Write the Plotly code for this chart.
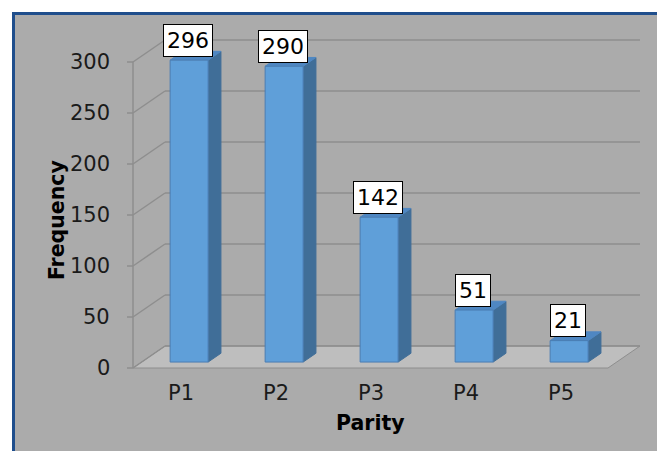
import plotly.graph_objects as go

# Parity distribution
categories = ["P1", "P2", "P3", "P4", "P5"]
frequency = [296, 290, 142, 51, 21]
y_ticks = [0, 50, 100, 150, 200, 250, 300]
y_max = 300

# Pseudo-3D projection (screen scale of one category / one unit, depth offset)
W, H = 657, 451
CAT_PX = 95.0           # pixels per category slot on the front plane
VAL_PX = 1.02           # pixels per frequency unit
ORIGIN_PX = (133, 368)  # front-left floor corner
DEPTH_PX = (32, 22)     # full depth shift (right, up)
DX = DEPTH_PX[0] / CAT_PX
DY = DEPTH_PX[1] / VAL_PX
BAR_W = 0.4             # bar width as a fraction of a slot
BAR_Z0, BAR_Z1 = 0.27, 0.67  # bar front/back depth fractions

FONT = "DejaVu Sans, Verdana, sans-serif"
BG = "#ababab"
FLOOR = "#bebebe"
GRID = "#8e8e8e"
FRONT = "#5f9fd9"
SIDE = "#406e98"
TOP = "#4f87c2"
EDGE = "#4a7db3"
TEXT = "#1a1a1a"

x_range = [(0 - ORIGIN_PX[0]) / CAT_PX, (W - ORIGIN_PX[0]) / CAT_PX]
y_range = [(ORIGIN_PX[1] - H) / VAL_PX, ORIGIN_PX[1] / VAL_PX]


def proj(x, y, z):
    """Category x, value y, depth z (0 front .. 1 back) -> axis coordinates."""
    return x + z * DX, y + z * DY


def poly(points, fill, line_color, width=1):
    xs, ys = zip(*points)
    return go.Scatter(x=list(xs) + [xs[0]], y=list(ys) + [ys[0]], mode="lines",
                      fill="toself", fillcolor=fill,
                      line=dict(color=line_color, width=width),
                      hoverinfo="skip", showlegend=False)


fig = go.Figure()
n = len(categories)

# floor
fig.add_trace(poly([proj(0, 0, 0), proj(n, 0, 0), proj(n, 0, 1), proj(0, 0, 1)],
                   FLOOR, GRID))

# back-wall gridlines and side-wall diagonals
gx, gy = [], []
for t in y_ticks:
    for a, b in ((proj(0, t, 0), proj(0, t, 1)), (proj(0, t, 1), proj(n, t, 1))):
        gx += [a[0], b[0], None]
        gy += [a[1], b[1], None]
# front value axis and tick marks
gx += [0, 0, None]
gy += [0, y_max, None]
for t in y_ticks:
    gx += [-6 / CAT_PX, 0, None]
    gy += [t, t, None]
fig.add_trace(go.Scatter(x=gx, y=gy, mode="lines", line=dict(color=GRID, width=1.5),
                         hoverinfo="skip", showlegend=False))

# bars: front, side and top faces
pad = (1 - BAR_W) / 2
for i, v in enumerate(frequency):
    x0, x1 = i + pad, i + pad + BAR_W
    fig.add_trace(poly([proj(x1, 0, BAR_Z0), proj(x1, 0, BAR_Z1),
                        proj(x1, v, BAR_Z1), proj(x1, v, BAR_Z0)], SIDE, SIDE))
    fig.add_trace(poly([proj(x0, v, BAR_Z0), proj(x1, v, BAR_Z0),
                        proj(x1, v, BAR_Z1), proj(x0, v, BAR_Z1)], TOP, TOP))
    fig.add_trace(poly([proj(x0, 0, BAR_Z0), proj(x1, 0, BAR_Z0),
                        proj(x1, v, BAR_Z0), proj(x0, v, BAR_Z0)], FRONT, EDGE))
    # value label above the bar
    cx, cy = proj(i + 0.5, v, BAR_Z0)
    fig.add_annotation(x=cx - 1 / CAT_PX, y=cy + 20 / VAL_PX, text=str(v),
                       showarrow=False, bgcolor="white", bordercolor="black",
                       borderwidth=1, borderpad=3,
                       font=dict(family=FONT, size=22, color="black"))
    # category label
    fig.add_annotation(x=i + 0.5, y=-25 / VAL_PX, text=categories[i], showarrow=False,
                       font=dict(family=FONT, size=21, color=TEXT))

# value tick labels
for t in y_ticks:
    fig.add_annotation(x=-21 / CAT_PX, y=t, text=str(t), showarrow=False,
                       xanchor="right", font=dict(family=FONT, size=21, color=TEXT))

# axis titles
fig.add_annotation(x=n / 2, y=-55 / VAL_PX, text="<b>Parity</b>", showarrow=False,
                   font=dict(family=FONT, size=20.5, color="black"))
fig.add_annotation(x=-76 / CAT_PX, y=145, text="<b>Frequency</b>", showarrow=False,
                   textangle=-90, font=dict(family=FONT, size=20.5, color="black"))

# chart panel with its frame
fig.add_shape(type="rect", xref="paper", yref="paper",
              x0=13.5 / W, x1=1.05, y0=-0.05, y1=1 - 13.5 / H,
              fillcolor=BG, line=dict(color="#1f4e8c", width=3), layer="below")

fig.update_layout(
    width=W, height=H, margin=dict(l=0, r=0, t=0, b=0), autosize=False,
    paper_bgcolor="white", plot_bgcolor="rgba(0,0,0,0)",
    xaxis=dict(range=x_range, visible=False, fixedrange=True),
    yaxis=dict(range=y_range, visible=False, fixedrange=True),
    showlegend=False,
)

fig.write_html("out.html")
